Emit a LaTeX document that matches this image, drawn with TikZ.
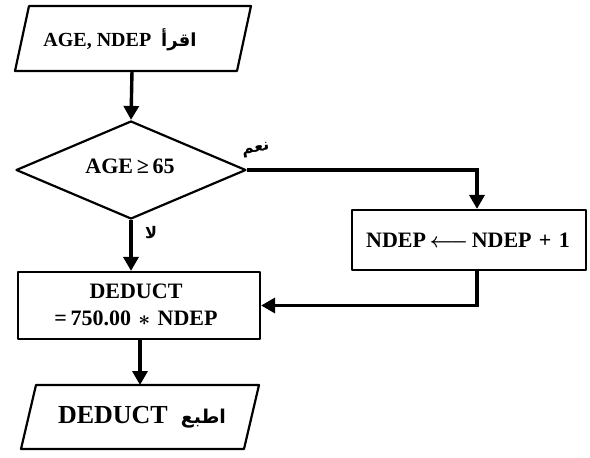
\documentclass[tikz,border=0pt]{standalone}
\usepackage{amsmath}
\usepackage{fontspec}
\setmainfont{Liberation Serif}
\newfontfamily\arabicfont[Script=Arabic]{DejaVu Sans}
\TeXXeTstate=1
\usetikzlibrary{arrows.meta,shapes.geometric}
\begin{document}
\begin{tikzpicture}[x=1pt,y=-1pt,
  shapeline/.style={line width=2.2pt, line join=round},
  flow/.style={line width=3.4pt, -{Triangle[width=15pt,length=14pt]}},
  txt/.style={font=\fontsize{20}{24}\selectfont\bfseries, inner sep=0pt},
  procbox/.style={shapeline, draw, rectangle, inner sep=0pt, align=center},
  decbox/.style={shapeline, draw, diamond, inner sep=0pt},
  lbl/.style={font=\arabicfont\fontsize{16}{18}\selectfont\bfseries, inner sep=0pt}]
\useasboundingbox (0,0) rectangle (590,458);
% input parallelogram
\draw[shapeline] (29,6) -- (251,6) -- (237,71) -- (15,71) -- cycle;
\node[txt] (intext) at (120,40) {AGE, NDEP\ \ {\arabicfont\fontsize{18}{20}\selectfont\beginR اقرأ\endR}};
\coordinate (inB) at (132,71);
% decision
\node[decbox, minimum width=230pt, minimum height=98pt] (cond) at (131,170) {};
\node[txt, font=\fontsize{22}{24}\selectfont\bfseries] (condtext) at (130,166) {AGE\,≥\,65};
% process boxes
\node[procbox, minimum width=242pt, minimum height=67pt] (dec) at (139,305.5) {};
\node[txt, font=\fontsize{22}{27}\selectfont\bfseries, align=center] (dectext) at (136,305) {DEDUCT\\=\,750.00\,\,$\boldsymbol{\ast}$\,\,NDEP};
\node[procbox, minimum width=234pt, minimum height=60pt] (inc) at (469,240) {};
\node[txt, font=\fontsize{22}{26}\selectfont\bfseries] (inctext) at (468,240) {NDEP\,$\boldsymbol{\longleftarrow}$\,NDEP\,\,+\,\,1};
% output parallelogram
\draw[shapeline] (36,385) -- (259,385) -- (244,449) -- (21,449) -- cycle;
\node[txt, font=\fontsize{26}{30}\selectfont\bfseries] (outtext) at (142,417) {DEDUCT\ \ {\arabicfont\fontsize{19}{21}\selectfont\beginR اطبع\endR}};
\coordinate (outT) at (140,385);
% connectors
\draw[flow] (inB) -- (cond.north);
\draw[flow] (cond.south) -- (cond.south |- dec.north);
\coordinate (yesA) at (477,170);
\draw[flow] (cond.east) -- (yesA) -- (yesA |- inc.north);
\coordinate (incB) at (477,270);
\draw[flow] (incB) |- (dec.east);
\draw[flow] (outT |- dec.south) -- (outT);
% labels
\node[lbl, rotate=10] (yes) at (256,150) {\beginR نعم\endR};
\node[lbl] (no) at (151,233) {\beginR لا\endR};
\end{tikzpicture}
\end{document}
